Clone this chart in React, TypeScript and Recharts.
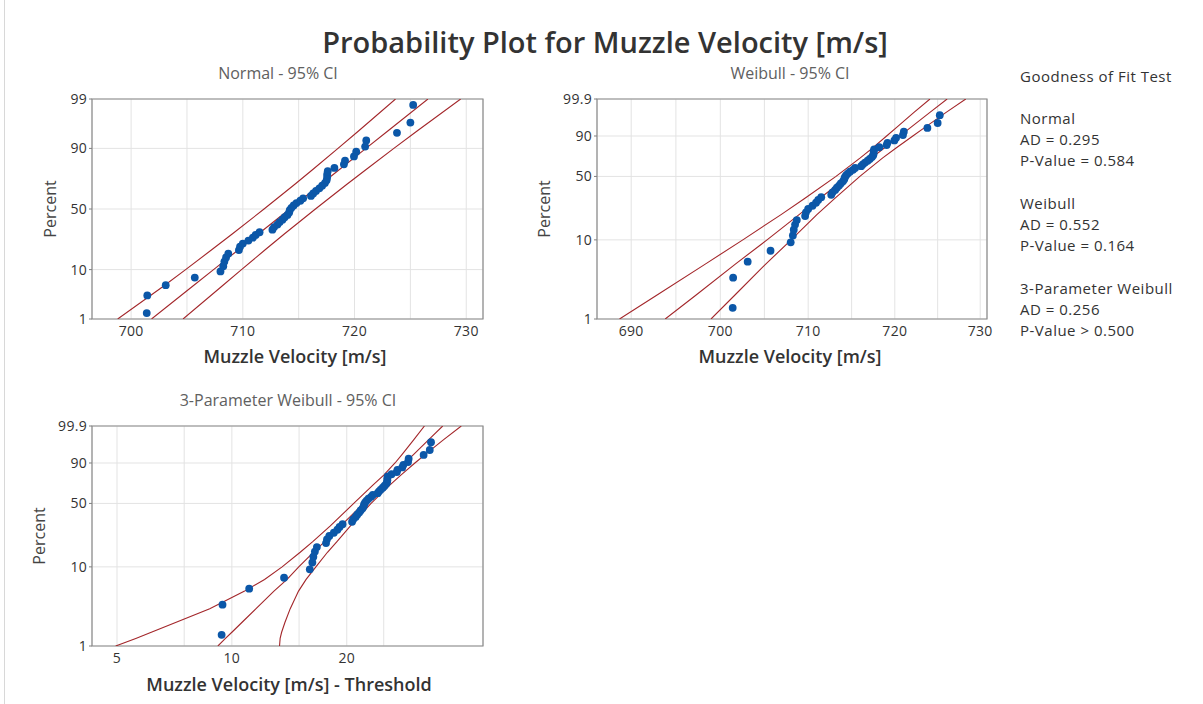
import React from "react";
import { CartesianGrid, ReferenceArea, Scatter, ScatterChart, XAxis, YAxis } from "recharts";

// measured muzzle velocities, sorted (m/s)
const VELOCITY = [
  701.4, 701.45, 703.1, 705.7, 708.0, 708.25, 708.35, 708.5, 708.7, 709.65,
  709.75, 710.0, 710.5, 710.9, 711.15, 711.5, 712.65, 712.8, 713.1, 713.3,
  713.55, 713.75, 714.0, 714.15, 714.2, 714.35, 714.55, 714.8, 715.15, 715.4,
  716.1, 716.3, 716.55, 716.85, 717.1, 717.35, 717.5, 717.55, 717.55, 717.6,
  718.2, 719.05, 719.15, 719.95, 720.15, 720.95, 721.05, 723.8, 725.0, 725.25,
];
const THRESHOLD = 692.0;

// fitted line + 95% CI at these percents
const NORMAL_PCT = [1, 5, 10, 20, 30, 50, 70, 80, 90, 95, 99];
const NORMAL_FIT = [701.83, 705.45, 707.38, 709.72, 711.41, 714.2, 716.99, 718.68, 721.02, 722.95, 726.57];
const NORMAL_LO = [698.8, 702.83, 704.88, 707.33, 709.08, 711.9, 714.66, 716.29, 718.52, 720.33, 723.67];
const NORMAL_HI = [704.65, 708.07, 709.88, 712.11, 713.74, 716.5, 719.32, 721.07, 723.52, 725.57, 729.5];

const WEIBULL_PCT = [1, 2, 5, 10, 20, 30, 50, 70, 80, 90, 95, 99, 99.9];
const WEIBULL_FIT = [693.8, 697.2, 701.7, 705.3, 708.96, 711.28, 714.57, 717.32, 718.78, 720.58, 721.9, 724.06, 726.11];
const WEIBULL_LO = [688.7, 692.8, 698.3, 702.55, 706.9, 709.55, 713.2, 716.0, 717.4, 719.05, 720.25, 722.2, 724.1];
const WEIBULL_HI = [698.95, 701.6, 705.15, 708.05, 711.0, 713.0, 715.95, 718.6, 720.15, 722.1, 723.55, 725.95, 728.3];

const W3_PCT = [1, 1.25, 1.5, 2, 3, 5, 7, 10, 15, 20, 30, 50, 70, 80, 90, 95, 99, 99.9];
const W3_FIT = [9.19, 9.62, 10.0, 10.62, 11.57, 12.89, 13.95, 14.97, 16.35, 17.5, 19.29, 22.14, 24.83, 26.37, 28.41, 30.0, 32.8, 35.68];
const W3_LO = [4.96, 5.6, 6.15, 7.12, 8.75, 10.8, 12.18, 13.54, 15.1, 16.29, 18.11, 20.86, 23.45, 25.0, 26.76, 27.97, 29.98, 31.96];
const W3_HI = [13.33, 13.38, 13.5, 13.77, 14.22, 14.95, 15.65, 16.6, 17.8, 18.85, 20.45, 23.16, 25.97, 27.72, 30.17, 32.18, 35.89, 39.91];

// axis ticks
const NORMAL_Y_TICKS = [1, 10, 50, 90, 99];
const WEIBULL_Y_TICKS = [1, 10, 50, 90, 99.9];
const NORMAL_X_TICKS = [700, 705, 710, 715, 720, 725, 730];
const WEIBULL_X_TICKS = [690, 695, 700, 705, 710, 715, 720, 725, 730];
const W3_X_TICKS = [5, 7.5, 10, 15, 20, 25];
const NORMAL_X_LABELS = [700, 710, 720, 730];
const WEIBULL_X_LABELS = [690, 700, 710, 720, 730];
const W3_X_LABELS = [5, 10, 20];

const GOF_LINES = [
  "Goodness of Fit Test", "", "Normal", "AD = 0.295", "P-Value = 0.584", "",
  "Weibull", "AD = 0.552", "P-Value = 0.164", "",
  "3-Parameter Weibull", "AD = 0.256", "P-Value > 0.500",
];

const FONT = "'Open Sans', 'Noto Sans', sans-serif";
const RED = "#a3262a";
const BLUE = "#0b57a8";

// inverse standard normal (Acklam)
function probit(p: number) {
  const a = [-39.69683028665376, 220.9460984245205, -275.9285104469687, 138.357751867269, -30.66479806614716, 2.506628277459239];
  const b = [-54.47609879822406, 161.5858368580409, -155.6989798598866, 66.80131188771972, -13.28068155288572];
  const c = [-0.007784894002430293, -0.3223964580411365, -2.400758277161838, -2.549732539343734, 4.374664141464968, 2.938163982698783];
  const d = [0.007784695709041462, 0.3224671290700398, 2.445134137142996, 3.754408661907416];
  const lo = 0.02425;
  if (p < lo || p > 1 - lo) {
    const q = Math.sqrt(-2 * Math.log(p < lo ? p : 1 - p));
    const v = (((((c[0] * q + c[1]) * q + c[2]) * q + c[3]) * q + c[4]) * q + c[5]) /
      ((((d[0] * q + d[1]) * q + d[2]) * q + d[3]) * q + 1);
    return p < lo ? v : -v;
  }
  const q = p - 0.5;
  const r = q * q;
  return ((((((a[0] * r + a[1]) * r + a[2]) * r + a[3]) * r + a[4]) * r + a[5]) * q) /
    (((((b[0] * r + b[1]) * r + b[2]) * r + b[3]) * r + b[4]) * r + 1);
}

const normalY = (pct: number) => probit(pct / 100);
const weibullY = (pct: number) => Math.log(-Math.log(1 - pct / 100));

// median rank plotting position in percent
const medianRank = (i: number, n: number) => ((i + 1 - 0.3) / (n + 0.4)) * 100;

const XTick = (props: any) => {
  const { x, y, payload, labels } = props;
  if (!labels.includes(payload.value)) return <g />;
  return (
    <text x={x} y={y + 17} textAnchor="middle" fontSize={14} letterSpacing={0.3} fill="#333" fontFamily={FONT}>
      {payload.value}
    </text>
  );
};

const YTick = (props: any) => {
  const { x, y, index, labels } = props;
  return (
    <g>
      <line x1={x - 3} x2={x} y1={y} y2={y} stroke="#808080" />
      <text x={x - 5} y={y + 5} textAnchor="end" fontSize={14} letterSpacing={0.3} fill="#333" fontFamily={FONT}>
        {labels[index]}
      </text>
    </g>
  );
};

type PlotProps = {
  left: number;
  top: number;
  marginLeft: number;
  marginRight: number;
  logX?: boolean;
  xDomain: [number, number];
  xTicks: number[];
  xLabels: number[];
  yTicks: number[];
  yFn: (pct: number) => number;
  xs: number[];
  pct: number[];
  fit: number[];
  lo: number[];
  hi: number[];
};

function ProbPlot(p: PlotProps) {
  const yDomain: [number, number] = [p.yFn(p.yTicks[0]), p.yFn(p.yTicks[p.yTicks.length - 1])];
  const points = p.xs.map((x, i) => ({ x, y: p.yFn(medianRank(i, p.xs.length)) }));
  const toLine = (vals: number[]) => vals.map((x, i) => ({ x, y: p.yFn(p.pct[i]) }));
  const lines = [toLine(p.lo), toLine(p.fit), toLine(p.hi)];
  return (
    <div style={{ position: "absolute", left: p.left, top: p.top }}>
      <ScatterChart
        width={500}
        height={300}
        margin={{ top: 9, right: p.marginRight, left: p.marginLeft, bottom: 41 }}
      >
        <CartesianGrid stroke="#e3e3e3" />
        <XAxis
          dataKey="x"
          type="number"
          scale={p.logX ? "log" : "linear"}
          domain={p.xDomain}
          ticks={p.xTicks}
          interval={0}
          allowDataOverflow
          axisLine={false}
          tickLine={false}
          tickSize={0}
          tickMargin={0}
          height={30}
          tick={<XTick labels={p.xLabels} />}
        />
        <YAxis
          dataKey="y"
          type="number"
          domain={yDomain}
          ticks={p.yTicks.map(p.yFn)}
          interval={0}
          allowDataOverflow
          axisLine={false}
          tickLine={false}
          tickSize={0}
          tickMargin={0}
          width={40}
          tick={<YTick labels={p.yTicks} />}
        />
        <ReferenceArea
          x1={p.xDomain[0]}
          x2={p.xDomain[1]}
          y1={yDomain[0]}
          y2={yDomain[1]}
          fill="none"
          stroke="#8a8a8a"
          strokeWidth={1.2}
        />
        {lines.map((d, k) => (
          <Scatter
            key={k}
            data={d}
            line={{ stroke: RED, strokeWidth: 1.1 }}
            shape={() => <g />}
            isAnimationActive={false}
          />
        ))}
        <Scatter
          data={points}
          shape={(s: any) => <circle cx={s.cx} cy={s.cy} r={3.9} fill={BLUE} />}
          isAnimationActive={false}
        />
      </ScatterChart>
    </div>
  );
}

const Txt = ({ x, y, size, children, color = "#333", weight = 400, anchor = "middle", spacing = 0 }: any) => (
  <div
    style={{
      position: "absolute",
      left: anchor === "middle" ? x - 300 : x,
      top: y - size * 0.7,
      width: anchor === "middle" ? 600 : undefined,
      textAlign: anchor === "middle" ? "center" : "left",
      fontSize: size,
      lineHeight: `${size * 1.4}px`,
      color,
      fontWeight: weight,
      letterSpacing: spacing,
      whiteSpace: "nowrap",
    }}
  >
    {children}
  </div>
);

const VLabel = ({ x, y, children }: any) => (
  <div
    style={{
      position: "absolute",
      left: x - 50,
      top: y - 11,
      width: 100,
      textAlign: "center",
      fontSize: 16,
      lineHeight: "22px",
      color: "#444",
      transform: "rotate(-90deg)",
    }}
  >
    {children}
  </div>
);

export default function App() {
  return (
    <div
      style={{
        position: "absolute",
        left: 0,
        top: 0,
        width: 1203,
        height: 704,
        background: "#fff",
        fontFamily: FONT,
        overflow: "hidden",
      }}
    >
      <div style={{ position: "absolute", left: 4, top: 0, width: 1, height: 704, background: "#d8d8d8" }} />
      <Txt x={605} y={42} size={29} weight={600}>Probability Plot for Muzzle Velocity [m/s]</Txt>
      <Txt x={278} y={73} size={16} color="#606060">Normal - 95% CI</Txt>
      <Txt x={790} y={73} size={16} color="#606060">Weibull - 95% CI</Txt>
      <Txt x={288} y={400} size={16} color="#606060">3-Parameter Weibull - 95% CI</Txt>

      <ProbPlot
        left={0}
        top={90}
        marginLeft={52}
        marginRight={17}
        xDomain={[696.5, 731.5]}
        xTicks={NORMAL_X_TICKS}
        xLabels={NORMAL_X_LABELS}
        yTicks={NORMAL_Y_TICKS}
        yFn={normalY}
        xs={VELOCITY}
        pct={NORMAL_PCT}
        fit={NORMAL_FIT}
        lo={NORMAL_LO}
        hi={NORMAL_HI}
      />
      <ProbPlot
        left={500}
        top={90}
        marginLeft={57}
        marginRight={13}
        logX
        xDomain={[686.2, 730.8]}
        xTicks={WEIBULL_X_TICKS}
        xLabels={WEIBULL_X_LABELS}
        yTicks={WEIBULL_Y_TICKS}
        yFn={weibullY}
        xs={VELOCITY}
        pct={WEIBULL_PCT}
        fit={WEIBULL_FIT}
        lo={WEIBULL_LO}
        hi={WEIBULL_HI}
      />
      <ProbPlot
        left={0}
        top={417}
        marginLeft={52}
        marginRight={17}
        logX
        xDomain={[4.3, 45.5]}
        xTicks={W3_X_TICKS}
        xLabels={W3_X_LABELS}
        yTicks={WEIBULL_Y_TICKS}
        yFn={weibullY}
        xs={VELOCITY.map((v) => v - THRESHOLD)}
        pct={W3_PCT}
        fit={W3_FIT}
        lo={W3_LO}
        hi={W3_HI}
      />

      <VLabel x={50} y={209}>Percent</VLabel>
      <VLabel x={544} y={209}>Percent</VLabel>
      <VLabel x={39} y={536}>Percent</VLabel>

      <Txt x={295} y={357} size={18} weight={600}>Muzzle Velocity [m/s]</Txt>
      <Txt x={790} y={357} size={18} weight={600}>Muzzle Velocity [m/s]</Txt>
      <Txt x={289} y={685} size={18} weight={600}>Muzzle Velocity [m/s] - Threshold</Txt>

      {GOF_LINES.map((t, i) =>
        t ? (
          <Txt key={i} x={1020} y={76 + i * 21.2} size={15} anchor="start" spacing={0.5}>
            {t}
          </Txt>
        ) : null
      )}
    </div>
  );
}
